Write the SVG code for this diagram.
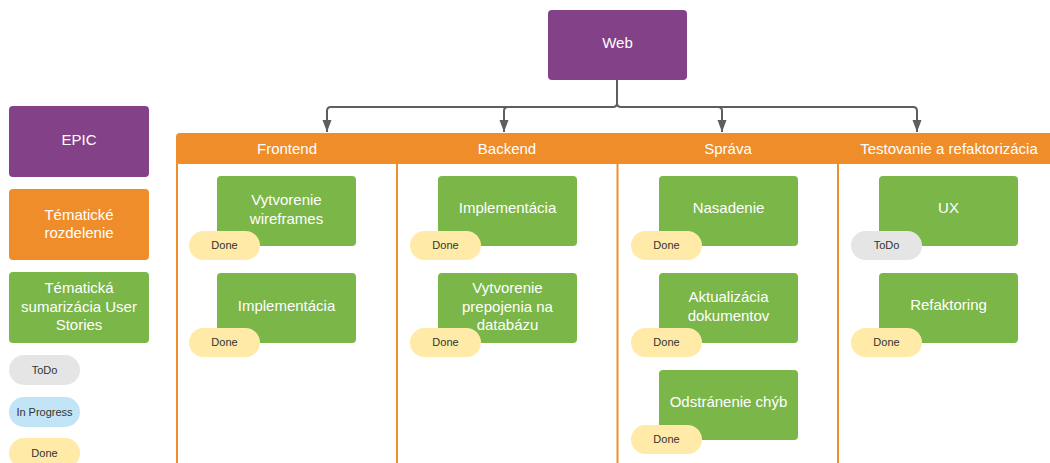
<svg xmlns="http://www.w3.org/2000/svg" width="1050" height="463" viewBox="0 0 1050 463">
<style>
text{font-family:"Liberation Sans",Arial,sans-serif;text-anchor:middle}
.w{fill:#ffffff;font-size:15px}
.p{fill:#333333;font-size:11px}
.epic{fill:#834187}
.org{fill:#EF8D2A}
.card{fill:#7AB648}
.done{fill:#FFEAA7}
.todo{fill:#E5E5E5}
.prog{fill:#C1E4F7}
.col{stroke:#EF8D2A;stroke-width:2;fill:none}
.con{stroke:#5E5E5E;stroke-width:2;fill:none}
</style>
<defs>
<marker id="ah" markerWidth="13" markerHeight="10" refX="12" refY="5" orient="auto" markerUnits="userSpaceOnUse" viewBox="0 0 13 10">
<path d="M0,0.5 L12,5 L0,9.5 Z" fill="#5E5E5E"/>
</marker>
</defs>
<rect width="1050" height="463" fill="#ffffff"/>

<g id="legend">
<g id="legend-epic"><rect class="epic" x="9" y="106" width="140" height="71" rx="4"/><text class="w" x="79" y="145">EPIC</text></g>
<g id="legend-tema"><rect class="org" x="9" y="189" width="140" height="71" rx="4"/><text class="w" x="79" y="220">Tématické</text><text class="w" x="79" y="238">rozdelenie</text></g>
<g id="legend-sum"><rect class="card" x="9" y="272" width="140" height="71" rx="4"/><text class="w" x="79" y="293">Tématická</text><text class="w" x="79" y="312">sumarizácia User</text><text class="w" x="79" y="330">Stories</text></g>
<g id="legend-todo"><rect class="todo" x="9" y="355" width="71" height="30" rx="15"/><text class="p" x="44.5" y="374">ToDo</text></g>
<g id="legend-prog"><rect class="prog" x="9" y="397" width="71" height="30" rx="15"/><text class="p" x="44.5" y="416">In Progress</text></g>
<g id="legend-done"><rect class="done" x="9" y="438" width="71" height="30" rx="15"/><text class="p" x="44.5" y="457">Done</text></g>
</g>

<g id="web"><rect class="epic" x="548" y="10" width="139" height="70" rx="4"/><text class="w" x="617.5" y="48">Web</text></g>

<g id="connectors">
<path class="con" d="M617,80 V103 Q617,107 613,107 H331 Q327,107 327,111 V132" marker-end="url(#ah)"/>
<path class="con" d="M508,107 Q504,107 504,111 V132" marker-end="url(#ah)"/>
<path class="con" d="M617,103 Q617,107 621,107 H718 Q722,107 722,111 V132" marker-end="url(#ah)"/>
<path class="con" d="M718,107 H913 Q917,107 917,111 V132" marker-end="url(#ah)"/>
</g>

<g id="swimlanes">
<path class="col" d="M177,463 V140"/>
<line class="col" x1="397" y1="164" x2="397" y2="463"/>
<line class="col" x1="617.5" y1="164" x2="617.5" y2="463"/>
<line class="col" x1="838" y1="164" x2="838" y2="463"/>
<rect class="org" x="176" y="133" width="900" height="31" rx="4"/>
<text class="w" x="287" y="154">Frontend</text>
<text class="w" x="507" y="154">Backend</text>
<text class="w" x="728" y="154">Správa</text>
<text class="w" x="949" y="154">Testovanie a refaktorizácia</text>
</g>

<g id="fe1"><rect class="card" x="217" y="176" width="139" height="70" rx="4"/><text class="w" x="286.5" y="205">Vytvorenie</text><text class="w" x="286.5" y="224">wireframes</text><rect class="done" x="189" y="231" width="71" height="29" rx="14.5"/><text class="p" x="224.5" y="249">Done</text></g>
<g id="fe2"><rect class="card" x="217" y="273" width="139" height="70" rx="4"/><text class="w" x="286.5" y="311">Implementácia</text><rect class="done" x="189" y="328" width="71" height="29" rx="14.5"/><text class="p" x="224.5" y="346">Done</text></g>

<g id="be1"><rect class="card" x="438" y="176" width="139" height="70" rx="4"/><text class="w" x="507.5" y="213">Implementácia</text><rect class="done" x="410" y="231" width="71" height="29" rx="14.5"/><text class="p" x="445.5" y="249">Done</text></g>
<g id="be2"><rect class="card" x="438" y="273" width="139" height="70" rx="4"/><text class="w" x="507.5" y="293">Vytvorenie</text><text class="w" x="507.5" y="312">prepojenia na</text><text class="w" x="507.5" y="330">databázu</text><rect class="done" x="410" y="328" width="71" height="29" rx="14.5"/><text class="p" x="445.5" y="346">Done</text></g>

<g id="sp1"><rect class="card" x="659" y="176" width="139" height="70" rx="4"/><text class="w" x="728.5" y="213">Nasadenie</text><rect class="done" x="631" y="231" width="71" height="29" rx="14.5"/><text class="p" x="666.5" y="249">Done</text></g>
<g id="sp2"><rect class="card" x="659" y="273" width="139" height="70" rx="4"/><text class="w" x="728.5" y="302">Aktualizácia</text><text class="w" x="728.5" y="321">dokumentov</text><rect class="done" x="631" y="328" width="71" height="29" rx="14.5"/><text class="p" x="666.5" y="346">Done</text></g>
<g id="sp3"><rect class="card" x="659" y="370" width="139" height="70" rx="4"/><text class="w" x="728.5" y="407">Odstránenie chýb</text><rect class="done" x="631" y="425" width="71" height="29" rx="14.5"/><text class="p" x="666.5" y="443">Done</text></g>

<g id="te1"><rect class="card" x="879" y="176" width="139" height="70" rx="4"/><text class="w" x="948.5" y="213">UX</text><rect class="todo" x="851" y="231" width="71" height="29" rx="14.5"/><text class="p" x="886.5" y="249">ToDo</text></g>
<g id="te2"><rect class="card" x="879" y="273" width="139" height="70" rx="4"/><text class="w" x="948.5" y="310">Refaktoring</text><rect class="done" x="851" y="328" width="71" height="29" rx="14.5"/><text class="p" x="886.5" y="346">Done</text></g>
</svg>
